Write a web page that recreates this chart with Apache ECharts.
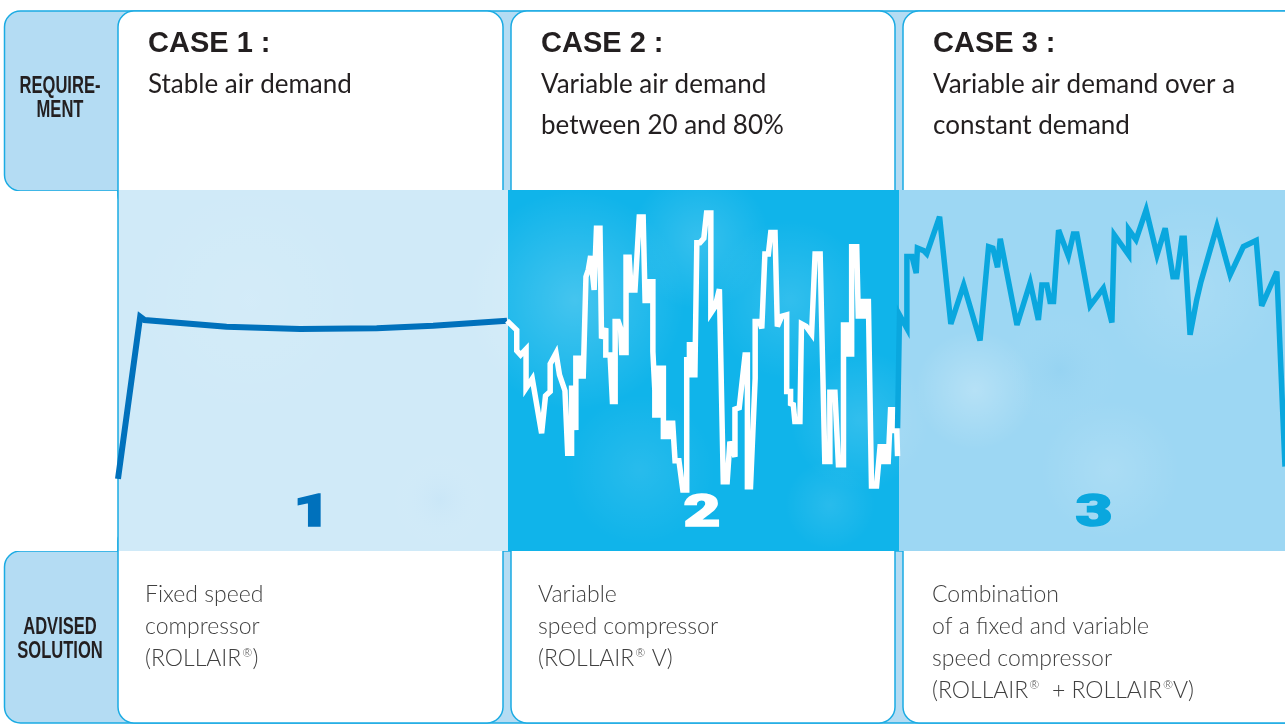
<!DOCTYPE html>
<html><head><meta charset="utf-8">
<script src="https://cdn.jsdelivr.net/npm/echarts@6/dist/echarts.min.js"></script>
<style>html,body{margin:0;padding:0;background:#fff;overflow:hidden}#c{width:1285px;height:725px}</style>
</head><body><div id="c"></div>
<script>
// ---- texts ----
const caseTitles = ['CASE 1 :', 'CASE 2 :', 'CASE 3 :'];
const requirements = [
  'Stable air demand',
  'Variable air demand\nbetween 20 and 80%',
  'Variable air demand over a\nconstant demand'
];
const solutions = [
  'Fixed speed\ncompressor\n(ROLLAIR®)',
  'Variable\nspeed compressor\n(ROLLAIR® V)',
  'Combination\nof a fixed and variable\nspeed compressor\n(ROLLAIR®  + ROLLAIR®V)'
];
const rowLabels = ['REQUIRE-\nMENT', 'ADVISED\nSOLUTION'];
const panelNumbers = ['1', '2', '3'];

// ---- series (time units: each case = 100, demand in %) ----
const case1Time = [0, 5.7, 6.8, 27.9, 46.8, 66.5, 81, 100];
const case1Demand = [20, 64.9, 64, 62.1, 61.5, 61.7, 62.4, 63.8];

const case2Time = [100, 102.5, 102.5, 103.5, 104.9, 104.9, 106.5, 108.9, 109.9, 111.1,
  111.1, 112.6, 113.5, 114.9, 115.6, 116.6, 116.6, 117.2, 117.7, 117.7,
  118.8, 118.8, 119.6, 120.3, 120.9, 121.5, 122.0, 122.4, 123.0, 123.9,
  124.3, 125.4, 125.4, 126.5, 127.1, 127.8, 127.8, 128.6, 129.2, 129.5,
  130.6, 130.6, 131.4, 131.9, 132.9, 134.0, 135.0, 135.5, 136.5, 136.5,
  137.5, 137.5, 138.0, 138.0, 139.0, 139.0, 140.2, 140.2, 141.5, 141.5,
  142.6, 143.2, 144.2, 145.2, 146.2, 146.2, 146.9, 146.9, 147.6, 147.6,
  148.3, 148.8, 149.6, 150.6, 151.3, 152.4, 152.4, 153.5, 154.6, 155.6,
  156.6, 157.3, 158.6, 158.6, 159.7, 161.2, 161.8, 161.8, 162.6, 163.8,
  163.8, 164.9, 165.5, 166.3, 167.2, 167.8, 168.9, 169.5, 170.6, 171.9,
  171.9, 172.9, 172.9, 173.6, 174.0, 175.3, 175.7, 176.9, 178.3, 179.2,
  180.5, 181.7, 183.0, 183.0, 184.3, 185.2, 186.5, 186.5, 187.5, 187.5,
  188.6, 188.6, 189.9, 190.3, 191.6, 191.6, 192.9, 193.7, 195.0, 195.9,
  196.9, 196.9, 198.0, 198.6, 199.3, 199.3, 200.2, 200.4];
const case2Demand = [63.8, 61.2, 55.5, 54.3, 55.9, 45.1, 47.7, 32.6, 43.0, 44.2,
  51.8, 54.8, 48.8, 44.4, 27.1, 27.1, 45.1, 45.1, 33.5, 53.4,
  53.4, 48.5, 48.5, 76.0, 77.9, 81.7, 81.7, 72.3, 89.4, 89.4,
  58.9, 61.7, 54.3, 54.3, 41.4, 41.4, 63.6, 63.6, 61.7, 55.0,
  55.0, 81.4, 81.4, 72.3, 72.3, 92.5, 92.5, 69.4, 69.4, 74.6,
  74.6, 55.2, 44.6, 37.7, 37.7, 50.6, 50.6, 31.7, 31.7, 35.4,
  35.4, 25.0, 25.0, 16.9, 16.9, 53.0, 53.0, 57.1, 57.1, 48.8,
  48.8, 85.4, 85.4, 86.6, 93.6, 93.6, 65.9, 67.7, 72.5, 19.2,
  19.2, 30.3, 26.1, 39.3, 39.7, 54.3, 54.3, 17.8, 17.8, 47.9,
  63.6, 63.6, 61.7, 82.3, 82.3, 88.2, 88.2, 62.2, 65.0, 65.4,
  44.2, 44.2, 40.8, 40.5, 35.9, 35.9, 62.9, 62.2, 60.1, 82.3,
  82.3, 24.8, 24.8, 44.0, 44.0, 23.9, 23.9, 62.6, 62.6, 54.6,
  54.6, 84.3, 84.3, 65.1, 65.1, 69.1, 69.1, 18.0, 18.0, 28.9,
  28.9, 24.8, 24.8, 39.1, 39.1, 33.4, 33.4, 26.3];

const case3Time = [200.4, 200.9, 202.8, 202.8, 204.1, 205.2, 205.5, 207.1, 207.9, 211.2,
  214.1, 217.4, 221.6, 223.8, 224.9, 226.1, 226.8, 231.1, 234.5, 236.6,
  237.5, 238.8, 239.6, 240.5, 241.8, 244.3, 245.6, 246.5, 249.9, 253.3,
  255.5, 256.1, 259.8, 259.8, 261.7, 264.3, 267.1, 269.2, 271.2, 272.2,
  273.5, 274.1, 275.6, 277.3, 278.4, 282.5, 285.9, 289.3, 292.6, 294.0,
  297.9, 300];
const case3Demand = [34.0, 65.4, 61.7, 81.6, 81.6, 77.0, 83.9, 83.2, 82.3, 92.6,
  62.9, 73.7, 58.3, 84.3, 83.9, 78.6, 86.5, 62.6, 74.4, 64.0,
  73.7, 73.7, 69.1, 69.1, 88.9, 81.7, 87.8, 87.8, 67.9, 72.8,
  63.3, 87.6, 82.0, 89.1, 86.2, 94.5, 82.0, 89.4, 76.0, 76.0,
  86.6, 86.6, 59.9, 69.6, 74.6, 89.9, 76.5, 84.3, 86.0, 67.9,
  77.4, 23.4];

const pair = (t, d) => t.map((v, i) => [v, d[i]]);

// ---- layout / style ----
const BORDER = '#1aabe3';
const LIGHT = '#b4dcf3';
const caseX = [118, 511, 903];
const caseW = [385, 384, 420];
const panelX = [118, 508, 899];
const panelW = [390, 391, 386];
const panelFill = ['#d0eaf8', '#10b4ea', '#9dd7f3'];
const lineColors = ['#0071bc', '#ffffff', '#0aa7de'];
const numberColors = ['#0071bc', '#ffffff', '#0aa7de'];
const numberX = [312, 702, 1094];
const textX = [148, 541, 933];
const solX = [145, 538, 932];

const g = [];
g.push({type:'rect', z:0, shape:{x:4.5, y:11, width:1320, height:180, r:[16,0,0,16]}, style:{fill:LIGHT, stroke:BORDER, lineWidth:1.5}});
g.push({type:'rect', z:0, shape:{x:4.5, y:551, width:1320, height:172, r:[16,0,0,16]}, style:{fill:LIGHT, stroke:BORDER, lineWidth:1.5}});
for (let i = 0; i < 3; i++) {
  g.push({type:'rect', z:1, shape:{x:caseX[i], y:11, width:caseW[i], height:200, r:16}, style:{fill:'#fff', stroke:BORDER, lineWidth:1.5}});
  g.push({type:'rect', z:1, shape:{x:caseX[i], y:525, width:caseW[i], height:198, r:16}, style:{fill:'#fff', stroke:BORDER, lineWidth:1.5}});
}
g.push({type:'rect', z:2, shape:{x:0, y:191, width:117, height:360}, style:{fill:'#fff'}});
for (let i = 0; i < 3; i++) {
  g.push({type:'rect', z:2, shape:{x:panelX[i], y:190, width:panelW[i], height:361}, style:{fill:panelFill[i]}});
}
// soft cloud texture (large, diffuse), kept inside the band
const clouds = [
  [575, 300, 110, 170, 'rgba(255,255,255,0.22)'],
  [700, 240, 140, 70, 'rgba(255,255,255,0.16)'],
  [790, 300, 90, 80, 'rgba(255,255,255,0.14)'],
  [860, 420, 70, 70, 'rgba(255,255,255,0.14)'],
  [640, 470, 120, 75, 'rgba(255,255,255,0.10)'],
  [830, 505, 80, 45, 'rgba(255,255,255,0.10)'],
  [975, 390, 130, 60, 'rgba(255,255,255,0.25)'],
  [1110, 470, 190, 70, 'rgba(255,255,255,0.14)'],
  [1190, 290, 120, 90, 'rgba(255,255,255,0.12)'],
  [1060, 370, 150, 60, 'rgba(60,160,225,0.07)'],
  [250, 300, 180, 120, 'rgba(255,255,255,0.08)'],
  [440, 500, 110, 50, 'rgba(150,200,240,0.10)']
];
clouds.forEach(c => g.push({type:'ellipse', z:3, shape:{cx:c[0], cy:c[1], rx:c[2], ry:c[3]},
  style:{fill:{type:'radial', x:0.5, y:0.5, r:0.5, colorStops:[{offset:0,color:c[4]},{offset:1,color:'rgba(255,255,255,0)'}]}}}));
g.push({type:'line', z:4, shape:{x1:118, y1:190, x2:118, y2:551}, style:{stroke:BORDER, lineWidth:1.5}});

const TXT = (o) => Object.assign({type:'text', z:20}, o);
for (let i = 0; i < 3; i++) {
  g.push(TXT({x:textX[i], y:43.5, style:{text:caseTitles[i], fill:'#231f20', fontFamily:'Liberation Sans', fontWeight:'bold', fontSize:29,
    align:'left', verticalAlign:'middle', textAlign:'left', textVerticalAlign:'middle'}}));
  g.push(TXT({x:textX[i], y:64, style:{text:requirements[i], fill:'#231f20', fontFamily:'Lato', fontSize:26, lineHeight:41,
    align:'left', verticalAlign:'top', textAlign:'left', textVerticalAlign:'top'}}));
  const rich = solutions[i].split('\n').map(l => l.split('®').map(s => s ? '{n|' + s + '}' : '').join('{r|®}')).join('\n');
  g.push(TXT({x:solX[i], y:579, style:{text:rich, fill:'#404040', fontFamily:'Lato', fontWeight:300, fontSize:23, lineHeight:32,
    align:'left', verticalAlign:'top', textAlign:'left', textVerticalAlign:'top',
    rich:{n:{fontFamily:'Lato', fontWeight:300, fontSize:23, lineHeight:32, fill:'#404040'},
          r:{fontFamily:'Lato', fontWeight:300, fontSize:12, fill:'#404040', verticalAlign:'top', padding:[4,0,0,1]}}}}));
  g.push(TXT({x:numberX[i], y:515, scaleX:1.45, style:{text:panelNumbers[i], fill:numberColors[i], fontFamily:'Roboto', fontWeight:900, fontSize:44,
    align:'center', verticalAlign:'middle', textAlign:'center', textVerticalAlign:'middle',
    stroke:numberColors[i], lineWidth:1.5}}));
}
g.push(TXT({x:60, y:75, scaleX:0.72, style:{text:rowLabels[0], fill:'#231f20', fontFamily:'Liberation Sans', fontWeight:'bold', fontSize:23, lineHeight:24,
  align:'center', verticalAlign:'top', textAlign:'center', textVerticalAlign:'top'}}));
g.push(TXT({x:60, y:616, scaleX:0.72, style:{text:rowLabels[1], fill:'#231f20', fontFamily:'Liberation Sans', fontWeight:'bold', fontSize:23, lineHeight:24,
  align:'center', verticalAlign:'top', textAlign:'center', textVerticalAlign:'top'}}));

const chart = echarts.init(document.getElementById('c'), null, {renderer:'canvas'});
const lineSeries = (name, data, color, z, w) => ({
  type:'line', name, data, z, showSymbol:false, symbol:'none', smooth:false, silent:true,
  lineStyle:{color, width:w, join:'miter', miterLimit:4, cap:'butt'}
});
chart.setOption({
  animation:false,
  backgroundColor:'#fff',
  graphic:{elements:g},
  grid:{left:118, right:0, top:190, bottom:174, containLabel:false},
  xAxis:{type:'value', min:0, max:300, show:false},
  yAxis:{type:'value', min:0, max:100, show:false},
  series:[
    lineSeries('Case 1', pair(case1Time, case1Demand), lineColors[0], 10, 6),
    lineSeries('Case 2', pair(case2Time, case2Demand), lineColors[1], 10, 5.5),
    lineSeries('Case 3', pair(case3Time, case3Demand), lineColors[2], 11, 5.5)
  ]
});
</script></body></html>
